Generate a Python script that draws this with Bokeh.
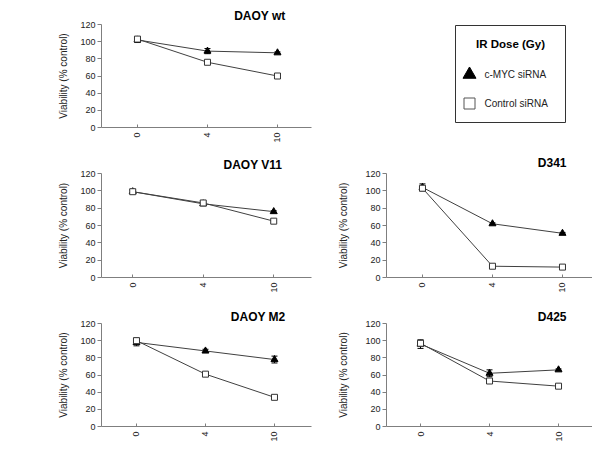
import math
from bokeh.plotting import figure
from bokeh.layouts import column, row
from bokeh.models import ColumnDataSource, Whisker, TeeHead, FixedTicker, SingleIntervalTicker, Range1d
from bokeh.embed import file_html
from bokeh.resources import INLINE
from bokeh.core.properties import value

# ---------------- data ----------------
doses = ["0", "4", "10"]
series_names = ["c-MYC siRNA", "Control siRNA"]
legend_title = "IR Dose (Gy)"
y_label = "Viability (% control)"

daoy_wt_myc = [102, 89, 87]
daoy_wt_myc_err = [3, 3, 1]
daoy_wt_ctrl = [103, 76, 60]
daoy_wt_ctrl_err = [2, 1, 2]

daoy_v11_myc = [99, 85, 76]
daoy_v11_myc_err = [2, 2, 1]
daoy_v11_ctrl = [99, 86, 65]
daoy_v11_ctrl_err = [2, 1, 1]

d341_myc = [104, 62, 51]
d341_myc_err = [4, 1, 1]
d341_ctrl = [103, 13, 12]
d341_ctrl_err = [2, 1, 1]

daoy_m2_myc = [98, 88, 78]
daoy_m2_myc_err = [4, 2, 4]
daoy_m2_ctrl = [100, 61, 34]
daoy_m2_ctrl_err = [3, 1, 1]

d425_myc = [96, 62, 66]
d425_myc_err = [5, 4, 1]
d425_ctrl = [97, 53, 47]
d425_ctrl_err = [3, 1, 1]

FONT = "Liberation Sans"
AXIS_GRAY = "#7f7f7f"
LINE_GRAY = "#404040"


def panel(title, myc, myc_err, ctrl, ctrl_err, width, height, bl, bt, bb, br,
          x_start, x_end, title_standoff, label_standoff):
    xs = list(range(len(doses)))
    p = figure(width=width, height=height, output_backend="svg", toolbar_location=None,
               x_range=Range1d(x_start, x_end), y_range=Range1d(0, 120),
               min_border_left=bl, min_border_top=bt, min_border_bottom=bb,
               min_border_right=br)
    p.title.text = title
    p.title.align = "right"
    p.title.offset = 26
    p.title.standoff = title_standoff
    p.title.text_font = FONT
    p.title.text_font_size = "12px"
    p.title.text_font_style = "bold"
    p.title.text_color = "black"
    p.outline_line_color = None
    p.xgrid.visible = False
    p.ygrid.visible = False
    p.background_fill_color = "white"
    p.border_fill_color = "white"

    p.yaxis.ticker = SingleIntervalTicker(interval=20, num_minor_ticks=0)
    p.xaxis.ticker = FixedTicker(ticks=xs)
    p.xaxis.major_label_overrides = {i: d for i, d in enumerate(doses)}
    p.xaxis.major_label_orientation = math.pi / 2
    for ax in (p.xaxis, p.yaxis):
        ax.axis_line_color = AXIS_GRAY
        ax.major_tick_line_color = AXIS_GRAY
        ax.minor_tick_line_color = None
        ax.major_label_text_font = FONT
        ax.major_label_text_font_size = "9px"
        ax.major_label_text_color = "#222222"
    p.yaxis.major_tick_out = 4
    p.yaxis.major_tick_in = 0
    p.yaxis.major_label_standoff = 2
    p.xaxis.major_tick_in = 3
    p.xaxis.major_tick_out = 0
    p.xaxis.major_label_standoff = 5
    p.yaxis.axis_label = y_label
    p.yaxis.axis_label_text_font = FONT
    p.yaxis.axis_label_text_font_size = "10px"
    p.yaxis.axis_label_text_font_style = "normal"
    p.yaxis.axis_label_text_color = "#222222"
    p.yaxis.axis_label_standoff = label_standoff

    for vals, errs in ((myc, myc_err), (ctrl, ctrl_err)):
        src = ColumnDataSource(dict(x=xs, upper=[v + e for v, e in zip(vals, errs)],
                                    lower=[v - e for v, e in zip(vals, errs)]))
        w = Whisker(base="x", upper="upper", lower="lower", source=src,
                    line_color="black", line_width=1,
                    upper_head=TeeHead(size=6, line_color="black", line_width=1),
                    lower_head=TeeHead(size=6, line_color="black", line_width=1))
        p.add_layout(w)

    p.line(xs, myc, line_color=LINE_GRAY, line_width=1)
    p.line(xs, ctrl, line_color=LINE_GRAY, line_width=1)
    p.scatter(xs, myc, marker="triangle", size=7, fill_color="black", line_color="black")
    p.scatter(xs, ctrl, marker="square", size=6, fill_color="white", line_color="#333333",
              line_width=1)
    return p


LW, RW = 317, 275
LFW, RFW = 210, 206  # frame widths

p_wt = panel("DAOY wt", daoy_wt_myc, daoy_wt_myc_err, daoy_wt_ctrl, daoy_wt_ctrl_err,
             LW, 150, 101, 24, 23, 6, -0.514, -0.514 + LFW / 70, 4, 8)
p_v11 = panel("DAOY  V11", daoy_v11_myc, daoy_v11_myc_err, daoy_v11_ctrl, daoy_v11_ctrl_err,
              LW, 150, 101, 23, 23, 6, -0.443, -0.443 + LFW / 70.5, 4, 8)
p_d341 = panel("D341", d341_myc, d341_myc_err, d341_ctrl, d341_ctrl_err,
               RW, 150, 69, 23, 23, 0, -0.514, -0.514 + RFW / 70, 7, 13)
p_m2 = panel("DAOY M2", daoy_m2_myc, daoy_m2_myc_err, daoy_m2_ctrl, daoy_m2_ctrl_err,
             LW, 144, 101, 23, 17, 6, -0.507, -0.507 + LFW / 69, 0, 8)
p_d425 = panel("D425", d425_myc, d425_myc_err, d425_ctrl, d425_ctrl_err,
               RW, 144, 69, 23, 17, 0, -0.493, -0.493 + RFW / 69, 0, 13)

# ---------------- legend panel (frame mapped to page pixels) ----------------
leg = figure(width=RW, height=150, output_backend="svg", toolbar_location=None,
             x_range=Range1d(LW, LW + RW), y_range=Range1d(127, 24),
             x_axis_location=None, y_axis_location=None,
             min_border_left=0, min_border_right=0, min_border_top=24, min_border_bottom=23)
leg.xgrid.visible = False
leg.ygrid.visible = False
leg.outline_line_color = None
box_left, box_right, box_top, box_bottom = 455, 565, 25, 122
leg.quad(left=[box_left], right=[box_right], top=[box_top], bottom=[box_bottom],
         fill_color="white", line_color="#333333", line_width=1)
leg.text(x=[(box_left + box_right) / 2], y=[43], text=[legend_title],
         text_align="center", text_baseline="middle", text_font=value(FONT),
         text_font_size="11.5px", text_font_style="bold", text_color="black")
item_x, item_ys = 469, [74, 103]
leg.scatter([item_x], [item_ys[0]], marker="triangle", size=13, fill_color="black",
            line_color="black")
leg.scatter([item_x], [item_ys[1]], marker="square", size=11, fill_color="white",
            line_color="#555555", line_width=1)
leg.text(x=[item_x + 15] * 2, y=item_ys, text=series_names, text_align="left",
         text_baseline="middle", text_font=value(FONT), text_font_size="10px",
         text_color="#222222")

layout = column(row(p_wt, leg), row(p_v11, p_d341), row(p_m2, p_d425))

open("out.html", "w").write(file_html(layout, INLINE))
